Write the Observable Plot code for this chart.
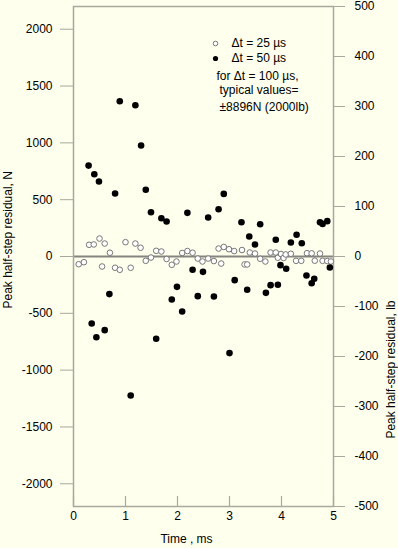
<!DOCTYPE html>
<html>
<head>
<meta charset="utf-8">
<script src="https://cdn.jsdelivr.net/npm/d3@7"></script>
<script src="https://cdn.jsdelivr.net/npm/@observablehq/plot@0.6"></script>
<style>
  html, body { margin: 0; padding: 0; background: #ffffee; }
  #chart { width: 398px; height: 548px; }
</style>
</head>
<body>
<div id="chart"></div>
<script>
// Δt = 25 µs (open circles): time (ms), residual (N)
const openT = [0.10,0.20,0.30,0.39,0.50,0.55,0.60,0.70,0.80,0.89,1.00,1.10,1.19,1.29,1.39,1.49,1.59,1.69,1.79,1.89,1.98,2.09,2.19,2.29,2.39,2.48,2.59,2.70,2.79,2.84,2.89,2.99,3.09,3.24,3.29,3.34,3.39,3.49,3.59,3.69,3.79,3.89,3.93,3.99,4.04,4.08,4.18,4.28,4.38,4.49,4.58,4.64,4.74,4.79,4.88,4.95];
const openV = [-68,-50,103,106,158,-88,114,33,-99,-117,126,-99,114,77,-38,-9,50,44,-22,-73,-44,31,48,33,-18,-44,-18,-40,70,-62,84,64,48,57,-70,-70,35,26,-20,-44,35,35,-11,22,-13,18,24,-38,-38,29,28,-37,26,-38,-40,-44];

// Δt = 50 µs (filled circles): time (ms), residual (N)
const filledT = [0.29,0.35,0.40,0.44,0.49,0.60,0.69,0.80,0.89,1.10,1.19,1.30,1.39,1.49,1.59,1.69,1.79,1.89,1.99,2.09,2.19,2.29,2.39,2.49,2.59,2.70,2.79,2.89,3.00,3.10,3.23,3.34,3.38,3.49,3.59,3.70,3.79,3.89,3.93,3.98,4.09,4.18,4.29,4.39,4.48,4.58,4.63,4.74,4.79,4.88,4.93];
const filledV = [800,-589,724,-710,660,-648,-331,554,1366,-1223,1331,977,587,390,-724,337,308,-378,-267,-484,384,-117,-349,-135,343,-352,416,551,-850,-208,302,-293,176,106,284,-320,-252,147,-249,-76,-108,123,191,117,-167,-235,-196,302,287,311,-97];

// Axes
const xTicks = [0,1,2,3,4,5];
const yTicksN = [-2000,-1500,-1000,-500,0,500,1000,1500,2000];
const yTicksLb = [-500,-400,-300,-200,-100,0,100,200,300,400,500];
const nPerLbAxis = 2200 / 500; // right axis spans the same frame as ±2200 N

const xLabel = "Time , ms";
const yLabelLeft = "Peak half-step residual, N";
const yLabelRight = "Peak half-step residual, lb";
const legendLines = ["Δt = 25 µs", "Δt = 50 µs", "for Δt = 100 µs,", "typical values=", "±8896N (2000lb)"];

const openData = openT.map((t, i) => ({t, v: openV[i]}));
const filledData = filledT.map((t, i) => ({t, v: filledV[i]}));

const axisGray = "#a8a89c";

const chart = Plot.plot({
  width: 398,
  height: 548,
  marginTop: 6,
  marginRight: 65,
  marginBottom: 42,
  marginLeft: 73,
  style: {background: "#ffffee", fontFamily: "'Liberation Sans', Arial, Helvetica, sans-serif", fontSize: "12px", color: "black"},
  x: {domain: [0, 5]},
  y: {domain: [-2200, 2200]},
  marks: [
    Plot.ruleY([0], {stroke: "#858580", strokeWidth: 2}),
    Plot.frame({stroke: axisGray, strokeWidth: 1.5}),
    Plot.axisY(yTicksN, {anchor: "left", tickSize: 13, tickPadding: 8, stroke: axisGray, fill: "black", tickFormat: d => String(d), label: null}),
    Plot.axisY(yTicksLb.map(v => v * nPerLbAxis), {anchor: "right", tickSize: 11, tickPadding: 10, stroke: axisGray, fill: "black", tickFormat: d => String(Math.round(d / nPerLbAxis)), label: null}),
    Plot.axisX(xTicks, {anchor: "bottom", tickSize: 0, tickPadding: 5, fill: "black", tickFormat: d => String(d), label: null}),
    Plot.tickX(xTicks, {x: d => d, stroke: axisGray, strokeWidth: 1.2, insetTop: 490}),
    Plot.dot(openData, {x: "t", y: "v", r: 2.8, stroke: "#777", strokeWidth: 1, fill: "white"}),
    Plot.dot(filledData, {x: "t", y: "v", r: 3.3, fill: "black"}),
    // axis titles
    Plot.text([xLabel], {frameAnchor: "bottom", dx: -17, dy: 36, text: d => d, fontSize: 12, fill: "black"}),
    Plot.text([yLabelLeft], {frameAnchor: "left", dx: -65, dy: 52, rotate: -90, text: d => d, fontSize: 12, fill: "black"}),
    Plot.text([yLabelRight], {frameAnchor: "right", dx: 58, dy: 44, rotate: -90, text: d => d, fontSize: 12, fill: "black"}),
    // legend
    Plot.dot([0], {frameAnchor: "top-left", dx: 142, dy: 37, r: 2.3, stroke: "#777", fill: "white", strokeWidth: 1}),
    Plot.dot([0], {frameAnchor: "top-left", dx: 142, dy: 52, r: 2.6, fill: "black"}),
    Plot.text([legendLines[0]], {frameAnchor: "top-left", dx: 158, dy: 37, text: d => d, textAnchor: "start", lineAnchor: "middle", fontSize: 12, fill: "black"}),
    Plot.text([legendLines[1]], {frameAnchor: "top-left", dx: 158, dy: 52, text: d => d, textAnchor: "start", lineAnchor: "middle", fontSize: 12, fill: "black"}),
    Plot.text([legendLines[2]], {frameAnchor: "top-left", dx: 143, dy: 70, text: d => d, textAnchor: "start", lineAnchor: "middle", fontSize: 12, fill: "black"}),
    Plot.text([legendLines[3]], {frameAnchor: "top-left", dx: 146, dy: 84, text: d => d, textAnchor: "start", lineAnchor: "middle", fontSize: 12, fill: "black"}),
    Plot.text([legendLines[4]], {frameAnchor: "top-left", dx: 146, dy: 101, text: d => d, textAnchor: "start", lineAnchor: "middle", fontSize: 12, fill: "black"})
  ]
});
document.getElementById("chart").appendChild(chart);
</script>
</body>
</html>
